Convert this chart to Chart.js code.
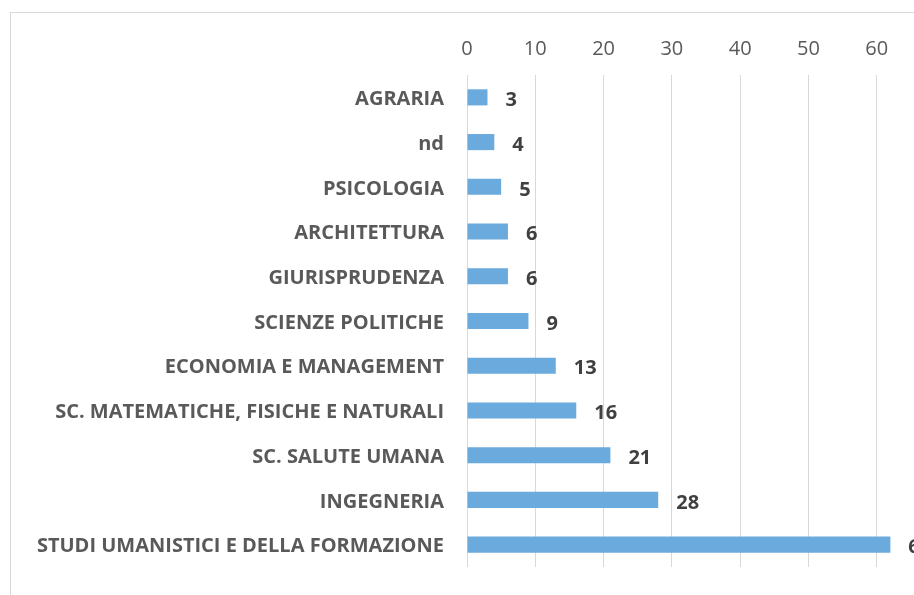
<!DOCTYPE html>
<html>
<head>
<meta charset="utf-8">
<script src="https://cdn.jsdelivr.net/npm/chart.js@4/dist/chart.umd.min.js"></script>
<style>
  html, body { margin: 0; padding: 0; background: #fff; overflow: hidden; }
  body { width: 914px; height: 595px; position: relative; }
  #frame {
    position: absolute; left: 10px; top: 12px; width: 1000px; height: 700px;
    border-left: 1px solid #d9d9d9; border-top: 1px solid #d9d9d9;
  }
  #chart { position: absolute; left: 0; top: 0; }
</style>
</head>
<body>
<div id="frame"></div>
<canvas id="chart" width="960" height="595"></canvas>
<script>
// Facoltà e numero di risposte
const categories = [
    'AGRARIA',
    'nd',
    'PSICOLOGIA',
    'ARCHITETTURA',
    'GIURISPRUDENZA',
    'SCIENZE POLITICHE',
    'ECONOMIA E MANAGEMENT',
    'SC. MATEMATICHE, FISICHE E NATURALI',
    'SC. SALUTE UMANA',
    'INGEGNERIA',
    'STUDI UMANISTICI E DELLA FORMAZIONE'
];
const counts = [3, 4, 5, 6, 6, 9, 13, 16, 21, 28, 62];
const axisMin = 0;
const axisMax = 70;
const axisStep = 10;

const fontFamily = '"Open Sans", "DejaVu Sans", sans-serif';

// draw the value next to each bar
const valueLabels = {
    id: 'valueLabels',
    afterDatasetsDraw(chart) {
        const ctx = chart.ctx;
        const meta = chart.getDatasetMeta(0);
        ctx.save();
        ctx.font = 'bold 20px ' + fontFamily;
        ctx.fillStyle = '#404040';
        ctx.textAlign = 'left';
        ctx.textBaseline = 'middle';
        meta.data.forEach((bar, i) => {
            ctx.fillText(String(counts[i]), bar.x + 18, bar.y + 3);
        });
        ctx.restore();
    }
};

const ctx = document.getElementById('chart').getContext('2d');
const chart = new Chart(ctx, {
    type: 'bar',
    data: {
        labels: categories,
        datasets: [{
            data: counts,
            backgroundColor: '#6aaadd',
            borderWidth: 0,
            categoryPercentage: 1,
            barPercentage: 0.36
        }]
    },
    options: {
        indexAxis: 'y',
        responsive: false,
        animation: false,
        layout: {
            padding: { left: 0, right: 15, top: 0, bottom: 28 }
        },
        plugins: {
            legend: { display: false },
            tooltip: { enabled: false }
        },
        scales: {
            x: {
                position: 'top',
                min: axisMin,
                max: axisMax,
                border: { display: false },
                grid: { color: '#d9d9d9', lineWidth: 1, drawTicks: false },
                ticks: {
                    stepSize: axisStep,
                    padding: 14,
                    color: '#595959',
                    font: { family: fontFamily, size: 20 }
                },
                afterFit(scale) {
                    scale.height = 75;
                    scale.paddingLeft = 0;
                    scale.paddingRight = 0;
                }
            },
            y: {
                border: { display: false },
                grid: { display: false, drawTicks: false },
                ticks: {
                    padding: 23,
                    labelOffset: 2,
                    color: '#595959',
                    font: { family: fontFamily, size: 20, weight: 'bold' }
                },
                afterFit(scale) {
                    scale.width = 467;
                    scale.paddingTop = 0;
                    scale.paddingBottom = 0;
                }
            }
        }
    },
    plugins: [valueLabels]
});
</script>
</body>
</html>
